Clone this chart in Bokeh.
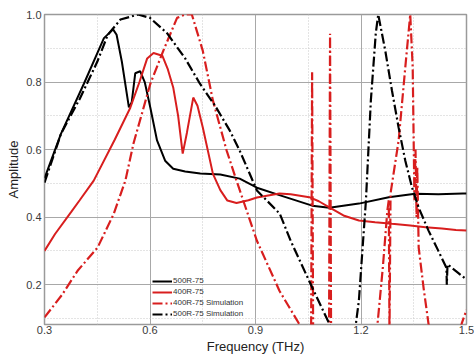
from bokeh.plotting import figure
from bokeh.models import Range1d, FixedTicker, Legend, LegendItem, PrintfTickFormatter
from bokeh.embed import file_html
from bokeh.resources import INLINE

# 500R-75 measured
f_500 = [0.30, 0.347, 0.412, 0.469, 0.495, 0.505, 0.52, 0.54, 0.548, 0.558, 0.572, 0.585, 0.601, 0.62,
         0.643, 0.666, 0.70, 0.743, 0.80, 0.855, 0.904, 0.968, 1.061, 1.11, 1.194, 1.279, 1.354, 1.42, 1.49, 1.50]
a_500 = [0.515, 0.647, 0.795, 0.93, 0.956, 0.94, 0.86, 0.725, 0.74, 0.826, 0.832, 0.80, 0.724, 0.627,
         0.567, 0.543, 0.535, 0.529, 0.526, 0.514, 0.487, 0.465, 0.434, 0.428, 0.44, 0.459, 0.469, 0.468, 0.47, 0.47]

# 400R-75 measured
f_400 = [0.30, 0.33, 0.375, 0.40, 0.44, 0.50, 0.544, 0.57, 0.592, 0.61, 0.635, 0.65, 0.666, 0.68, 0.693,
         0.705, 0.723, 0.735, 0.75, 0.779, 0.80, 0.82, 0.846, 0.88, 0.904, 0.968, 1.00, 1.053, 1.08, 1.11,
         1.15, 1.194, 1.24, 1.288, 1.34, 1.383, 1.43, 1.47, 1.50]
a_400 = [0.30, 0.35, 0.414, 0.45, 0.508, 0.63, 0.724, 0.80, 0.87, 0.886, 0.878, 0.84, 0.784, 0.70, 0.588,
         0.65, 0.754, 0.73, 0.666, 0.528, 0.48, 0.449, 0.442, 0.45, 0.458, 0.47, 0.468, 0.459, 0.447, 0.429,
         0.405, 0.39, 0.385, 0.38, 0.375, 0.37, 0.366, 0.362, 0.36]

# 400R-75 simulation
f_400s = [0.30, 0.35, 0.394, 0.451, 0.497, 0.53, 0.553, 0.601, 0.638, 0.677, 0.70, 0.719, 0.75, 0.779,
          0.818, 0.846, 0.904, 0.968, 1.024, 1.045, 1.058, 1.061, 1.064, 1.09, 1.109, 1.112, 1.115, 1.15,
          1.20, 1.247, 1.262, 1.275, 1.279, 1.281, 1.284, 1.307, 1.326, 1.340, 1.347, 1.352, 1.355,
          1.358, 1.360, 1.364, 1.378, 1.392, 1.41, 1.45, 1.486, 1.50]
a_400s = [0.103, 0.17, 0.241, 0.31, 0.41, 0.508, 0.618, 0.795, 0.893, 0.99, 1.0, 1.0, 0.893, 0.745,
          0.597, 0.508, 0.33, 0.182, 0.084, 0.04, 0.02, 0.829, 0.02, 0.0, 0.02, 0.943, 0.02, 0.0,
          0.0, 0.084, 0.25, 0.42, 0.45, 0.05, 0.47, 0.627, 0.844, 1.0, 0.844, 0.45, 0.60,
          0.40, 0.55, 0.31, 0.19, 0.084, 0.03, 0.0, 0.084, 0.125]

# 500R-75 simulation
f_500s = [0.30, 0.347, 0.40, 0.45, 0.48, 0.516, 0.566, 0.60, 0.649, 0.70, 0.742, 0.785, 0.827, 0.855,
          0.904, 0.969, 1.00, 1.053, 1.11, 1.13, 1.17, 1.185, 1.194, 1.214, 1.228, 1.242, 1.249, 1.269,
          1.288, 1.307, 1.326, 1.345, 1.364, 1.392, 1.42, 1.443, 1.444, 1.446, 1.47, 1.50]
a_500s = [0.502, 0.647, 0.75, 0.86, 0.94, 0.985, 1.0, 0.99, 0.944, 0.87, 0.795, 0.73, 0.656, 0.597,
          0.479, 0.41, 0.33, 0.21, 0.084, 0.04, 0.02, 0.08, 0.153, 0.449, 0.745, 0.944, 1.0, 0.893,
          0.775, 0.665, 0.567, 0.488, 0.428, 0.36, 0.30, 0.25, 0.20, 0.26, 0.24, 0.215]

x_ticks = [0.3, 0.6, 0.9, 1.2, 1.5]
x_minor = [0.45, 0.75, 1.05, 1.35]
y_ticks = [0.2, 0.4, 0.6, 0.8, 1.0]
y_minor = [0.1, 0.3, 0.5, 0.7, 0.9]

RED = "#d81e1e"
BLACK = "#000000"
DASHDOT = "10 3 2 3"

p = figure(width=474, height=360, output_backend="svg", toolbar_location=None,
           x_range=Range1d(0.3, 1.5), y_range=Range1d(0.082, 1.0),
           min_border_left=44, min_border_right=8, min_border_top=14, min_border_bottom=36)
p.background_fill_color = "white"
p.border_fill_color = "white"
p.outline_line_color = "#9a9a9a"
p.outline_line_width = 1.5

for ax in (p.xaxis[0], p.yaxis[0]):
    ax.axis_line_color = None
    ax.major_tick_line_color = None
    ax.minor_tick_line_color = None
    ax.major_tick_out = 0
    ax.major_tick_in = 0
    ax.minor_tick_out = 0
    ax.minor_tick_in = 0
    ax.major_label_text_font = "Liberation Sans"
    ax.major_label_text_font_size = "11px"
    ax.major_label_text_color = "#3a3a3a"
    ax.axis_label_text_font = "Liberation Sans"
    ax.axis_label_text_font_size = "13px"
    ax.axis_label_text_font_style = "normal"
    ax.axis_label_text_color = "#222222"

p.xaxis.ticker = FixedTicker(ticks=x_ticks, minor_ticks=x_minor)
p.yaxis.ticker = FixedTicker(ticks=y_ticks, minor_ticks=y_minor)
p.xaxis.formatter = PrintfTickFormatter(format="%.1f")
p.yaxis.formatter = PrintfTickFormatter(format="%.1f")
p.xaxis.major_label_standoff = 1
p.yaxis.major_label_standoff = 3
p.xaxis.axis_label = "Frequency (THz)"
p.yaxis.axis_label = "Amplitude"
p.xaxis.axis_label_standoff = 2
p.yaxis.axis_label_standoff = 2

for g in (p.xgrid[0], p.ygrid[0]):
    g.grid_line_color = "#a8a8a8"
    g.grid_line_width = 1
    g.minor_grid_line_color = "#c8c8c8"
    g.minor_grid_line_dash = "1 2"
    g.minor_grid_line_width = 1

r1 = p.line(f_500, a_500, line_color=BLACK, line_width=2)
r2 = p.line(f_400, a_400, line_color=RED, line_width=2)
r3 = p.line(f_400s, a_400s, line_color=RED, line_width=2.2, line_dash=DASHDOT)
r4 = p.line(f_500s, a_500s, line_color=BLACK, line_width=2.2, line_dash=DASHDOT)

legend = Legend(items=[
    LegendItem(label="500R-75", renderers=[r1]),
    LegendItem(label="400R-75", renderers=[r2]),
    LegendItem(label="400R-75 Simulation", renderers=[r3]),
    LegendItem(label="500R-75 Simulation", renderers=[r4]),
], location=(108, 6))
legend.background_fill_alpha = 0
legend.border_line_alpha = 0
legend.label_text_font = "Liberation Sans"
legend.label_text_font_size = "8px"
legend.label_text_color = "#333333"
legend.glyph_width = 20
legend.glyph_height = 8
legend.label_height = 8
legend.label_standoff = 1
legend.spacing = 2
legend.padding = 0
legend.margin = 0
p.add_layout(legend)

open("out.html", "w").write(file_html(p, INLINE))
